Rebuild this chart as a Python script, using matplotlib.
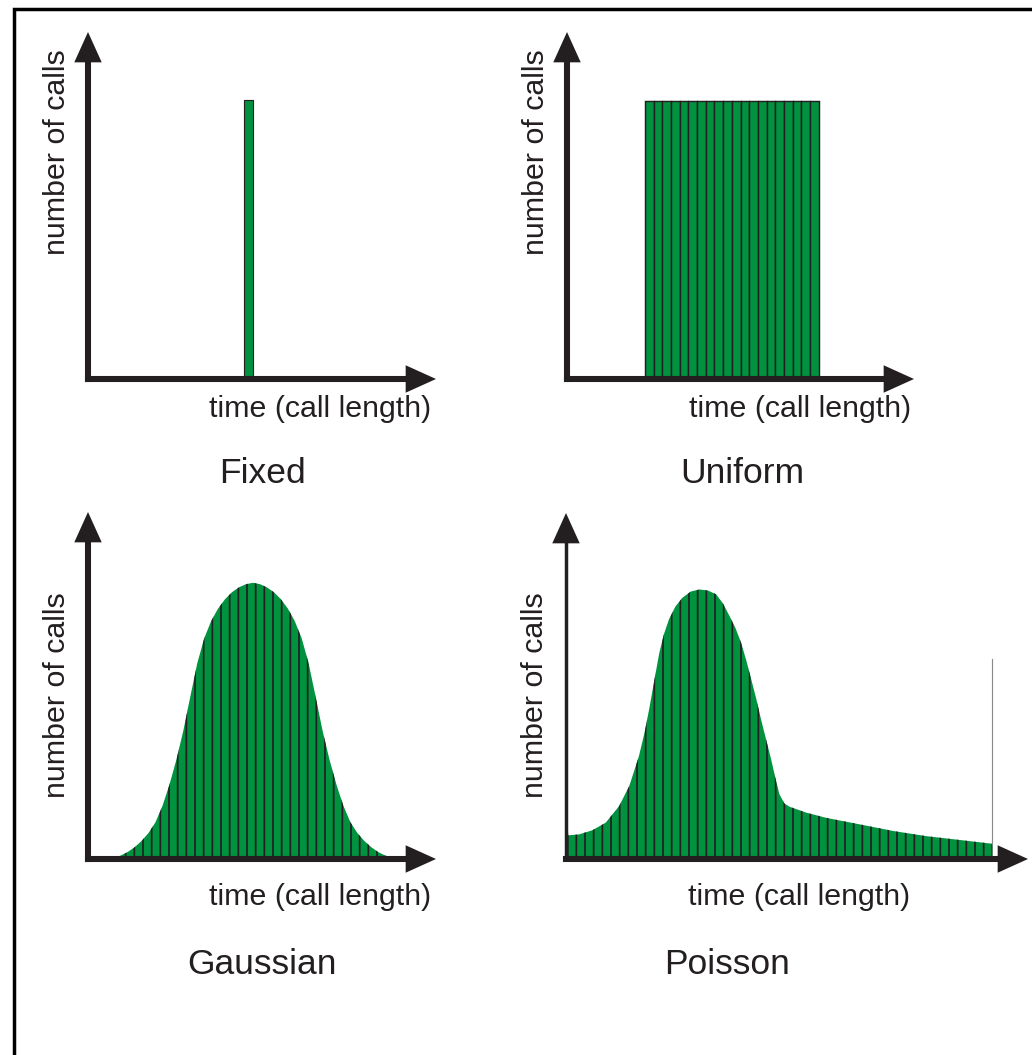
import numpy as np
import matplotlib
matplotlib.use("Agg")
from matplotlib import pyplot as plt
from matplotlib.patches import Rectangle

W, H, DPI = 1032, 1055, 104
GREEN = '#00923f'
INK = '#231f20'

plt.rcParams['font.family'] = ['Liberation Sans', 'DejaVu Sans']
plt.rcParams['hatch.color'] = INK
plt.rcParams['hatch.linewidth'] = 1.2

# values; every axis runs 0..100 from origin to arrow tip
fixed_x = [44.8]
fixed_h = [80.3]
fixed_w = 2.6

uniform_start = 22.5
uniform_w = 2.5
uniform_h = [80, 80, 80, 80, 80, 80, 80, 80, 80, 80,
             80, 80, 80, 80, 80, 80, 80, 80, 80, 80]

gauss_x = [5.4, 7.4, 9.4, 11.4, 13.4, 15.4, 17.4, 19.4, 21.4, 23.4, 25.4,
           27.4, 29.4, 31.4, 33.4, 35.4, 37.4, 39.4, 41.4, 43.4, 45.4, 47.4,
           49.4, 51.4, 53.4, 55.4, 57.4, 59.4, 61.4, 63.4, 65.4, 67.4, 69.4,
           71.4, 73.4, 75.4, 77.4, 79.4, 81.4, 83.4, 85.4, 87.4, 89.4]
gauss_y = [0.0, 0.3, 1.0, 2.0, 3.4, 5.2, 7.5, 10.6, 15.3, 21.4, 28.6,
           37.0, 46.8, 56.4, 63.6, 68.6, 72.2, 74.9, 76.9, 78.3, 79.2, 79.6,
           79.2, 78.3, 76.9, 74.9, 72.2, 68.6, 63.6, 56.4, 46.8, 37.0, 28.6,
           21.4, 15.3, 10.6, 7.5, 5.2, 3.4, 2.0, 1.0, 0.3, 0.0]

poisson_x = [0.0, 2.8, 5.7, 8.6, 11.5, 13.7, 15.8, 17.0, 18.0, 19.1, 20.2,
             21.2, 22.3, 23.7, 25.2, 27.0, 28.9, 30.7, 32.5, 34.0, 35.4,
             36.7, 37.9, 39.0, 40.1, 41.2, 42.2, 43.3, 44.4, 45.3, 46.2,
             47.3, 48.4, 52.0, 56.3, 63.6, 70.8, 78.0, 85.2, 92.3]
poisson_y = [6.8, 7.1, 8.3, 10.5, 15.3, 21.1, 29.8, 36.5, 43.3, 51.5, 59.6,
             65.0, 69.3, 73.0, 75.5, 77.3, 77.9, 77.6, 76.5, 73.8, 70.2,
             66.7, 62.5, 57.5, 51.9, 46.2, 40.4, 34.6, 28.8, 23.5, 18.7,
             16.0, 15.1, 13.4, 11.9, 10.0, 8.1, 6.6, 5.5, 4.4]
stray_x = 92.3
stray_y = [4.4, 57.8]

x_label = 'time (call length)'
y_label = 'number of calls'
titles = ['Fixed', 'Uniform', 'Gaussian', 'Poisson']


def px(x, y):
    return x / W, 1 - y / H


def make_axes(x0, y0, xt, yt):
    ax = fig.add_axes([x0 / W, 1 - y0 / H, (xt - x0) / W, (y0 - yt) / H])
    ax.set_xlim(0, 100)
    ax.set_ylim(0, 100)
    ax.set_axis_off()
    return ax


def draw_arrows(ax, ylw=4.2):
    ax.plot([0, 0.95], [0, 0], transform=ax.transAxes, color=INK, lw=4.2,
            solid_capstyle='projecting', clip_on=False, zorder=5)
    ax.plot([0, 0], [0, 0.95], transform=ax.transAxes, color=INK, lw=ylw,
            solid_capstyle='projecting', clip_on=False, zorder=5)
    for tip, tail in [((1, 0), (0.9, 0)), ((0, 1), (0, 0.9))]:
        ax.annotate('', xy=tip, xytext=tail, xycoords='axes fraction',
                    arrowprops=dict(arrowstyle='-|>,head_length=21,head_width=9.5',
                                    mutation_scale=1, lw=0, color=INK,
                                    shrinkA=0, shrinkB=0), zorder=6)


fig = plt.figure(figsize=(W / DPI, H / DPI), dpi=DPI)

# Fixed
ax1 = make_axes(88, 379, 436, 32)
ax1.bar(fixed_x, fixed_h, width=fixed_w, align='edge', color=GREEN,
        edgecolor=INK, linewidth=0.8)
draw_arrows(ax1)

# Uniform
ax2 = make_axes(567, 379, 914, 32)
ux = uniform_start + uniform_w * np.arange(len(uniform_h))
ax2.bar(ux, uniform_h, width=uniform_w, align='edge', color=GREEN,
        edgecolor=INK, linewidth=1.0)
draw_arrows(ax2)

# Gaussian
ax3 = make_axes(88, 859, 436, 512)
ax3.fill_between(gauss_x, gauss_y, 0, facecolor=GREEN, edgecolor=INK,
                 linewidth=0, hatch='||')
draw_arrows(ax3)

# Poisson
ax4 = make_axes(566, 859, 1028, 513)
ax4.fill_between(poisson_x, poisson_y, 0, facecolor=GREEN, edgecolor=INK,
                 linewidth=0, hatch='||')
ax4.plot([0, 0], [0, poisson_y[0]], color=INK, lw=3, zorder=4)
ax4.plot([stray_x, stray_x], stray_y, color='#8a8a8a', lw=0.8)
draw_arrows(ax4, ylw=2.4)

# texts
for (xx, yy) in [(320, 417), (800, 417), (320, 905), (799, 905)]:
    fig.text(*px(xx, yy), x_label, ha='center', va='baseline',
             fontsize=21, color=INK)
for (xx, yy) in [(57, 152), (536, 152), (57, 695), (535, 695)]:
    fig.text(*px(xx, yy), y_label, ha='center', va='center', rotation=90,
             fontsize=21, color=INK)
for t, (xx, yy) in zip(titles, [(262, 483), (742, 483), (262, 974), (727, 974)]):
    fig.text(*px(xx, yy), t, ha='center', va='baseline', fontsize=24.5,
             color=INK)

# frame, open to the right and bottom
fig.add_artist(Rectangle(px(14.3, 1100), 1.2, 1 + 45 / H - 9.3 / H,
                         transform=fig.transFigure, fill=False,
                         edgecolor='black', linewidth=2.4))

fig.savefig('out.png', dpi=DPI)
